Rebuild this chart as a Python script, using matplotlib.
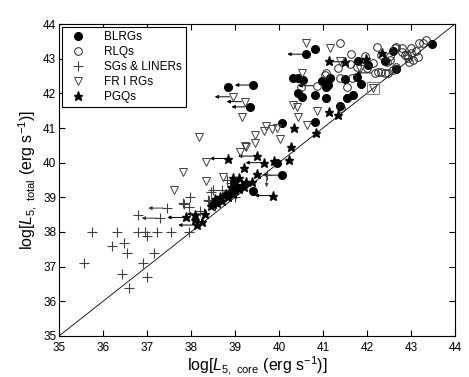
import matplotlib
matplotlib.use("Agg")
import matplotlib.pyplot as plt

plt.rcParams['font.family'] = ['Liberation Sans', 'DejaVu Sans']
plt.rcParams['mathtext.fontset'] = 'custom'
plt.rcParams['mathtext.rm'] = 'Liberation Sans'
plt.rcParams['mathtext.it'] = 'Liberation Sans:italic'

# BLRGs: log L5 core, log L5 total, upper limit on core (1 = arrow)
blrg_x = [38.85, 39.42, 39.34, 40.61, 40.82, 41.80, 42.03, 42.41, 42.60, 43.47,
          42.66, 40.33, 40.44, 40.55, 40.97, 41.16, 41.12, 41.08, 41.50, 41.78,
          41.86, 40.44, 40.52, 40.82, 41.08, 41.54, 41.69, 41.38, 40.06, 40.82,
          39.95, 40.06, 39.42]
blrg_y = [42.17, 42.24, 41.61, 43.13, 43.27, 42.93, 42.82, 42.93, 43.23, 43.41,
          42.70, 42.43, 42.43, 42.38, 42.36, 42.43, 42.24, 42.17, 42.40, 42.48,
          42.27, 42.00, 41.90, 41.95, 41.86, 41.86, 41.95, 41.64, 41.13, 41.17,
          40.00, 39.64, 39.19]
blrg_ul = [0, 1, 1, 1, 0, 0, 0, 0, 0, 0,
           0, 0, 0, 0, 0, 0, 0, 0, 0, 0,
           0, 0, 0, 0, 0, 0, 0, 0, 0, 0,
           0, 1, 0]

# RLQs
rlq_x = [41.39, 41.64, 42.22, 42.67, 42.79, 43.19, 41.95, 42.33, 42.45, 42.52,
         42.86, 42.93, 41.08, 41.05, 41.35, 41.61, 41.77, 41.99, 42.14, 42.26,
         42.48, 42.60, 42.67, 41.39, 41.65, 41.54, 43.28, 43.35, 42.90, 43.01,
         43.05, 42.79, 42.64, 42.52, 42.41, 42.33, 40.86, 41.40, 42.18, 40.50,
         43.00, 43.12, 42.95, 43.15]
rlq_y = [43.44, 43.13, 43.33, 43.33, 43.20, 43.44, 43.07, 43.12, 42.91, 43.07,
         43.11, 43.02, 42.59, 42.53, 42.72, 42.85, 42.77, 42.72, 42.87, 42.63,
         42.58, 42.67, 42.77, 42.43, 42.43, 42.19, 43.46, 43.54, 43.10, 43.15,
         42.96, 43.30, 43.30, 42.96, 42.58, 42.63, 42.22, 41.58, 42.59, 42.19,
         43.30, 43.22, 42.90, 43.05]
rlq_ul = [0] * 36 + [1, 0, 1, 0] + [0] * 4

# SGs & LINERs
sg_x = [35.57, 35.75, 36.20, 36.31, 36.48, 36.55, 36.44, 36.58, 36.79, 36.79,
        36.95, 37.00, 36.90, 37.00, 37.22, 37.17, 37.54, 37.30, 37.45, 37.84,
        37.95, 37.95, 37.98, 37.83, 38.50, 38.45, 38.81, 38.39, 38.42, 38.20,
        38.60, 38.70, 38.30, 38.90, 39.00, 38.55, 39.72]
sg_y = [37.10, 38.00, 37.60, 38.00, 37.69, 37.40, 36.79, 36.39, 38.49, 38.00,
        38.00, 37.88, 37.10, 36.69, 38.00, 37.40, 38.00, 38.40, 38.69, 38.80,
        38.71, 38.00, 39.00, 38.83, 39.21, 39.15, 39.50, 38.92, 38.88, 38.60,
        38.90, 39.20, 38.55, 39.40, 39.00, 38.75, 39.64]
sg_ul = [0] * 17 + [1, 1] + [0] * 18

# FR I RGs
fr_x = [38.96, 39.23, 39.15, 40.61, 41.16, 41.39, 41.84, 42.14, 40.31, 40.42,
        40.44, 40.87, 40.63, 39.70, 39.85, 39.96, 39.45, 39.66, 40.02, 39.23,
        39.45, 38.18, 37.83, 37.62, 38.34, 38.34, 38.72, 39.11, 39.25, 40.52]
fr_y = [41.90, 41.76, 41.31, 43.46, 43.30, 42.93, 42.69, 42.14, 41.66, 41.62,
        41.33, 41.50, 41.09, 41.05, 40.96, 40.99, 40.80, 40.90, 40.68, 40.48,
        40.58, 40.73, 39.72, 39.20, 40.01, 39.46, 39.60, 40.30, 40.46, 42.58]
fr_ul = [1, 1] + [0] * 28

# PGQs
pgq_x = [41.14, 41.50, 41.98, 42.35, 41.14, 41.35, 40.35, 40.84, 40.27, 40.23,
         39.89, 39.66, 39.49, 39.49, 39.38, 39.87, 38.85, 39.20,
         38.55, 38.65, 38.70, 38.75, 38.80, 38.85, 38.90, 38.95, 39.00, 39.05,
         39.10, 39.15, 39.20, 38.60, 38.50, 38.45, 39.25, 38.90, 39.00, 39.10,
         38.95, 37.88, 38.10, 38.33, 38.13, 38.26, 38.09]
pgq_y = [42.93, 42.91, 42.98, 43.17, 41.47, 41.37, 40.99, 40.85, 40.46, 40.08,
         40.06, 40.00, 40.19, 39.67, 39.45, 39.05, 40.12, 39.84,
         38.95, 39.00, 38.90, 39.05, 39.10, 39.00, 39.15, 39.10, 39.20, 39.30,
         39.25, 39.35, 39.30, 38.85, 38.80, 38.75, 39.45, 39.30, 39.45, 39.55,
         39.55, 38.42, 38.49, 38.52, 38.20, 38.30, 38.35]
pgq_ul = [0, 1, 0, 0, 0, 0, 0, 0, 0, 0,
          0, 1, 1, 0, 0, 1, 1, 0,
          0, 0, 0, 0, 0, 0, 0, 0, 0, 0,
          0, 0, 0, 0, 0, 0, 0, 0, 0, 0,
          0, 1, 0, 1, 1, 0, 0]

fig = plt.figure(figsize=(4.69, 3.77), dpi=100)
ax = fig.add_axes([0.1258, 0.1088, 0.8442, 0.8275])


def arrows(xs, ys, flags, color='k'):
    for x, y, f in zip(xs, ys, flags):
        if f:
            ax.annotate('', xy=(x - 0.42, y), xytext=(x - 0.08, y),
                        arrowprops=dict(arrowstyle='-|>', lw=0.7, color=color,
                                        mutation_scale=5, shrinkA=0, shrinkB=0))


ax.plot([35, 44], [35, 44], color='k', lw=0.6, zorder=1)

arrows(sg_x, sg_y, sg_ul, color='0.2')
arrows(blrg_x, blrg_y, blrg_ul)
arrows(rlq_x, rlq_y, rlq_ul)
arrows(fr_x, fr_y, fr_ul)
arrows(pgq_x, pgq_y, pgq_ul)

ax.plot(blrg_x, blrg_y, 'o', ms=5.5, mfc='k', mec='k', label='BLRGs', zorder=3)
ax.plot(rlq_x, rlq_y, 'o', ms=5.5, mfc='none', mec='0.15', mew=0.7, label='RLQs', zorder=3)
ax.plot(sg_x, sg_y, '+', ms=6.5, mec='0.25', mew=0.8, label='SGs & LINERs', zorder=3)
ax.plot(fr_x, fr_y, 'v', ms=6, mfc='none', mec='0.25', mew=0.7, label='FR I RGs', zorder=3)
ax.plot(pgq_x, pgq_y, '*', ms=6.5, mfc='k', mec='k', label='PGQs', zorder=3)

# special cases: boxed FR I source and SG with downward limit
ax.plot([fr_x[7]], [fr_y[7]], 's', ms=9, mfc='none', mec='0.5', mew=0.8, zorder=2)
ax.annotate('', xy=(sg_x[-1], sg_y[-1] - 0.35), xytext=(sg_x[-1], sg_y[-1] - 0.05),
            arrowprops=dict(arrowstyle='-|>', lw=0.7, color='0.3',
                            mutation_scale=5, shrinkA=0, shrinkB=0))

ax.set_xlim(35, 44)
ax.set_ylim(35, 44)
ax.set_xticks(range(35, 45))
ax.set_yticks(range(35, 45))
ax.tick_params(direction='in', top=True, right=True, length=4, labelsize=8.5)
ax.tick_params(axis='x', pad=4)
ax.tick_params(axis='y', pad=2)
for s in ax.spines.values():
    s.set_linewidth(0.8)

ax.set_xlabel(r'log[$L_{\mathrm{5,\ core}}$ (erg s$^{-1}$)]', fontsize=11.5, labelpad=0)
ax.set_ylabel(r'log[$L_{\mathrm{5,\ total}}$ (erg s$^{-1}$)]', fontsize=11.5, labelpad=3)

leg = ax.legend(loc='upper left', fontsize=8.5, frameon=True, fancybox=False,
                edgecolor='k', framealpha=1, borderaxespad=0.25,
                handletextpad=1.2, labelspacing=0.25, borderpad=0.35,
                handlelength=2.0, numpoints=1)
leg.get_frame().set_linewidth(0.8)

fig.savefig('out.png', dpi=100)
